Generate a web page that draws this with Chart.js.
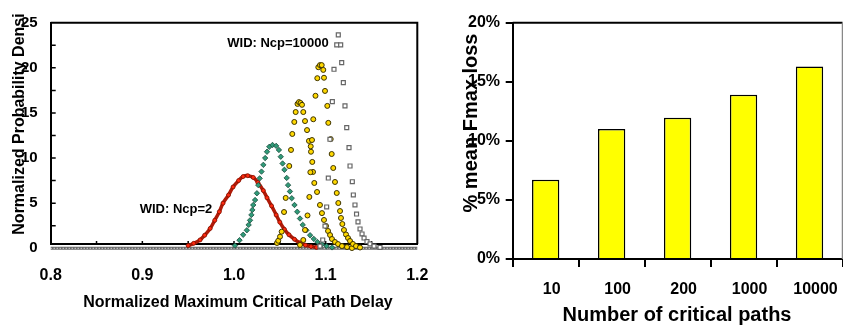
<!DOCTYPE html>
<html>
<head>
<meta charset="utf-8">
<script src="https://cdn.jsdelivr.net/npm/chart.js@4.4.1/dist/chart.umd.min.js"></script>
<style>
  html, body { margin: 0; padding: 0; background: #fff; }
  #wrap { position: relative; width: 843px; height: 329px; overflow: hidden; }
  #cLeft { position: absolute; left: 0; top: 0; }
  #cRight { position: absolute; left: 430px; top: 0; }
</style>
</head>
<body>
<div id="wrap">
  <canvas id="cLeft" width="430" height="329"></canvas>
  <canvas id="cRight" width="413" height="329"></canvas>
</div>
<script>
// --- left panel: normalized PDFs of max critical path delay ---
const ncp2X = [0.950, 0.956, 0.963, 0.968, 0.974, 0.979, 0.984, 0.988, 0.994, 0.999, 1.005, 1.010, 1.015, 1.021,
  1.026, 1.032, 1.036, 1.041, 1.046, 1.050, 1.055, 1.060, 1.066, 1.072, 1.078, 1.084, 1.090];
const ncp2Y = [0.3, 0.55, 0.93, 1.45, 2.2, 3.1, 4.05, 5.0, 5.9, 6.8, 7.5, 7.95, 8.05, 7.85,
  7.3, 6.4, 5.6, 4.7, 3.7, 2.9, 2.1, 1.5, 1.0, 0.6, 0.35, 0.2, 0.1];

const ncpBX = [1.001, 1.006, 1.010, 1.014, 1.016, 1.0175, 1.019, 1.020, 1.021, 1.023, 1.025, 1.0265, 1.028, 1.030,
  1.032, 1.034, 1.036, 1.0385, 1.042, 1.046, 1.049, 1.051, 1.053, 1.055, 1.0575, 1.059, 1.061, 1.063, 1.066,
  1.069, 1.072, 1.075, 1.079, 1.083, 1.087, 1.091, 1.096, 1.101, 1.107];
const ncpBY = [0.3, 0.9, 1.5, 2.0, 2.6, 3.1, 3.7, 4.25, 4.8, 5.35, 6.1, 7.0, 7.75, 8.5,
  9.25, 10.0, 10.7, 11.25, 11.45, 11.35, 10.9, 10.15, 9.4, 8.7, 7.8, 7.0, 6.3, 5.55, 4.8,
  4.05, 3.3, 2.6, 2.0, 1.45, 1.05, 0.7, 0.45, 0.25, 0.1];

const ncpCX = [1.0469, 1.0483, 1.0502, 1.0520, 1.0546, 1.0564, 1.0603, 1.0622, 1.0636, 1.0658, 1.0673, 1.0693,
  1.0709, 1.0726, 1.0742, 1.0756, 1.0775, 1.0797, 1.0818, 1.0837, 1.0840, 1.0854, 1.0862, 1.0876, 1.0906,
  1.0938, 1.0960, 1.0982, 1.1004, 1.1026, 1.1048, 1.1069, 1.1102, 1.1135, 1.1178, 1.1233, 1.1287];
const ncpCY = [0.59, 0.84, 1.29, 1.84, 4.02, 5.58, 9.12, 10.9, 12.67, 14.0, 15.1, 16.0,
  16.2, 16.1, 15.9, 15.1, 14.1, 13.1, 11.9, 11.3, 10.7, 9.57, 8.46, 7.24, 6.24,
  4.8, 3.9, 3.14, 2.47, 1.92, 1.47, 1.03, 0.7, 0.47, 0.25, 0.14, 0.03];

const ncpDX = [1.0720, 1.0756, 1.0775, 1.0802, 1.0822, 1.0833, 1.0851, 1.0865, 1.0889, 1.0909, 1.0920, 1.0938,
  1.0957, 1.0974, 1.0982, 1.0993, 1.1018, 1.1029, 1.1055, 1.1066, 1.1083, 1.1102, 1.1121, 1.1138, 1.1157,
  1.1167, 1.1182, 1.1200, 1.1222, 1.1244, 1.1266, 1.1298, 1.1331, 1.1375];
const ncpDY = [0.37, 0.92, 2.03, 3.64, 5.69, 8.43, 12.0, 14.3, 16.9, 18.85, 20.07, 20.3,
  20.3, 19.77, 18.9, 17.44, 15.78, 13.9, 12.1, 10.45, 8.9, 7.35, 6.13, 5.02, 4.13,
  3.36, 2.69, 2.03, 1.53, 1.14, 0.81, 0.48, 0.25, 0.09];

const ncp10000X = [1.0938, 1.0968, 1.0993, 1.1011, 1.1029, 1.1047, 1.1073, 1.1091, 1.1121, 1.1138, 1.1164, 1.1175,
  1.1193, 1.1211, 1.1230, 1.1255, 1.1266, 1.1291, 1.1302, 1.1320, 1.1337, 1.1353, 1.1375, 1.1397, 1.1419,
  1.1451, 1.1484, 1.1528, 1.1593];
const ncp10000Y = [0.25, 0.92, 2.47, 4.58, 7.79, 12.08, 16.25, 19.84, 22.54, 23.65, 22.54, 20.58,
  18.36, 15.78, 13.37, 11.15, 9.12, 7.38, 5.91, 4.8, 3.8, 2.92, 2.14, 1.59, 1.14,
  0.75, 0.48, 0.25, 0.09];

const baseX = [0.8, 1.2];
const baseY = [0, 0];

const delayTicks = [0.8, 0.9, 1.0, 1.1, 1.2];
const delayMinor = [0.85, 0.9, 0.95, 1.0, 1.05, 1.1, 1.15];
const densTicks = [0, 5, 10, 15, 20, 25];
const densMinor = [2.5, 5, 7.5, 10, 12.5, 15, 17.5, 20, 22.5];

// --- right panel: mean Fmax loss vs number of critical paths ---
const pathCounts = ['10', '100', '200', '1000', '10000'];
const fmaxLoss = [6.7, 11.0, 11.95, 13.9, 16.3];
const lossTicks = [0, 5, 10, 15, 20];

const FONT = "'Liberation Sans', Arial, sans-serif";
const pts = (xs, ys) => xs.map((x, i) => ({ x, y: ys[i] }));

function rotText(ctx, text, x, y, font) {
  ctx.save();
  ctx.translate(x, y);
  ctx.rotate(-Math.PI / 2);
  ctx.font = font;
  ctx.fillStyle = '#000';
  ctx.textAlign = 'center';
  ctx.textBaseline = 'middle';
  ctx.fillText(text, 0, 0);
  ctx.restore();
}

function plainText(ctx, text, x, y, font) {
  ctx.save();
  ctx.font = font;
  ctx.fillStyle = '#000';
  ctx.textAlign = 'center';
  ctx.textBaseline = 'middle';
  ctx.fillText(text, x, y);
  ctx.restore();
}

// frame, inward ticks and labels of the left panel
const leftDecor = {
  id: 'leftDecor',
  beforeDatasetsDraw(chart) {
    const { ctx, chartArea: a, scales: { x, y } } = chart;
    ctx.save();
    ctx.strokeStyle = '#000';
    ctx.lineWidth = 2;
    ctx.beginPath();
    ctx.moveTo(a.left, a.top); ctx.lineTo(a.right, a.top); ctx.lineTo(a.right, a.bottom);
    ctx.stroke();
    ctx.lineWidth = 1.5;
    ctx.beginPath();
    densMinor.forEach(v => {
      const py = y.getPixelForValue(v);
      ctx.moveTo(a.left, py); ctx.lineTo(a.left + 5, py);
    });
    delayMinor.forEach(v => {
      const px = x.getPixelForValue(v);
      ctx.moveTo(px, a.bottom); ctx.lineTo(px, a.bottom - 3);
    });
    ctx.stroke();
    ctx.restore();
  },
  afterDraw(chart) {
    const ctx = chart.ctx;
    rotText(ctx, 'Normalized Probability Densi', 20, 124, `bold 16px ${FONT}`);
    plainText(ctx, 'Normalized Maximum Critical Path Delay', 238, 303, `bold 16px ${FONT}`);
    plainText(ctx, 'WID: Ncp=10000', 278, 43, `bold 13px ${FONT}`);
    plainText(ctx, 'WID: Ncp=2', 176, 209, `bold 13px ${FONT}`);
  }
};

new Chart(document.getElementById('cLeft'), {
  type: 'scatter',
  data: {
    datasets: [
      {
        label: 'Ncp=10000', data: pts(ncp10000X, ncp10000Y), clip: false,
        pointStyle: 'rect', pointRadius: 2.8, pointBackgroundColor: '#ffffff',
        pointBorderColor: '#666666', pointBorderWidth: 1.2
      },
      {
        label: 'D', data: pts(ncpDX, ncpDY), clip: false,
        pointStyle: 'circle', pointRadius: 2.5, pointBackgroundColor: '#ffd800',
        pointBorderColor: '#3d3300', pointBorderWidth: 1
      },
      {
        label: 'C', data: pts(ncpCX, ncpCY), clip: false,
        pointStyle: 'circle', pointRadius: 2.5, pointBackgroundColor: '#ffd800',
        pointBorderColor: '#3d3300', pointBorderWidth: 1
      },
      {
        label: 'B', data: pts(ncpBX, ncpBY), clip: false,
        pointStyle: 'rectRot', pointRadius: 2.7, pointBackgroundColor: '#2f9a78',
        pointBorderColor: '#1b4a3b', pointBorderWidth: 0.8
      },
      {
        label: 'Ncp=2', data: pts(ncp2X, ncp2Y), clip: false, showLine: true, tension: 0.4,
        borderColor: '#b01a08', borderWidth: 3.5,
        pointStyle: 'circle', pointRadius: 2, pointBackgroundColor: '#ff2a10',
        pointBorderColor: '#7a1000', pointBorderWidth: 0.8
      },
      {
        label: 'base-dots', data: pts(baseX, baseY), clip: false, showLine: true,
        borderColor: '#ffffff', borderWidth: 1, borderDash: [1, 2], pointRadius: 0
      },
      {
        label: 'base', data: pts(baseX, baseY), clip: false, showLine: true,
        borderColor: '#6a6a6a', borderWidth: 3, pointRadius: 0
      }
    ]
  },
  options: {
    responsive: false,
    animation: false,
    layout: { padding: { top: 22.7, right: 12.7, left: 0, bottom: 0 } },
    plugins: { legend: { display: false }, tooltip: { enabled: false } },
    scales: {
      x: {
        type: 'linear', min: 0.8, max: 1.2,
        afterBuildTicks: s => { s.ticks = delayTicks.map(v => ({ value: v })); },
        afterFit: s => { s.height = 85; s.paddingLeft = 0; s.paddingRight = 0; },
        grid: { display: false, drawTicks: true, tickLength: 22 },
        border: { display: true, color: '#000', width: 2 },
        ticks: {
          padding: 0, color: '#000', font: { family: FONT, size: 16, weight: 'bold' },
          callback: v => v.toFixed(1)
        }
      },
      y: {
        min: 0.477, max: 25,
        afterBuildTicks: s => { s.ticks = densTicks.map(v => ({ value: v })); },
        afterFit: s => { s.width = 50.7; s.paddingTop = 0; s.paddingBottom = 0; },
        grid: { display: false, drawTicks: false },
        border: { display: true, color: '#000', width: 2 },
        ticks: { padding: 13, color: '#000', font: { family: FONT, size: 15, weight: 'bold' } }
      }
    }
  },
  plugins: [leftDecor]
});

// frame and labels of the right panel
const rightDecor = {
  id: 'rightDecor',
  beforeDatasetsDraw(chart) {
    const { ctx, chartArea: a } = chart;
    ctx.save();
    ctx.strokeStyle = '#000';
    ctx.lineWidth = 2;
    ctx.beginPath();
    ctx.moveTo(a.left, a.top); ctx.lineTo(a.right, a.top);
    ctx.stroke();
    ctx.strokeStyle = '#888';
    ctx.lineWidth = 1.5;
    ctx.beginPath();
    ctx.moveTo(a.right, a.top); ctx.lineTo(a.right, a.bottom);
    ctx.stroke();
    ctx.restore();
  },
  afterDraw(chart) {
    const ctx = chart.ctx;
    rotText(ctx, '% mean Fmax loss', 41, 123, `bold 20px ${FONT}`);
    plainText(ctx, 'Number of critical paths', 247, 315, `bold 20px ${FONT}`);
  }
};

new Chart(document.getElementById('cRight'), {
  type: 'bar',
  data: {
    labels: pathCounts,
    datasets: [{
      data: fmaxLoss,
      backgroundColor: '#ffff00',
      borderColor: '#000',
      borderWidth: 1.5,
      barPercentage: 0.414,
      categoryPercentage: 1
    }]
  },
  options: {
    responsive: false,
    animation: false,
    layout: { padding: { top: 22.7, right: 0.5, left: 0, bottom: 0 } },
    plugins: { legend: { display: false }, tooltip: { enabled: false } },
    scales: {
      x: {
        afterFit: s => { s.height = 70; s.paddingLeft = 0; s.paddingRight = 0; },
        grid: { display: true, drawOnChartArea: false, drawTicks: true, tickLength: 8, color: '#000', lineWidth: 2, offset: true },
        border: { display: true, color: '#000', width: 2 },
        ticks: { padding: 12.7, labelOffset: 6, color: '#000', font: { family: FONT, size: 16, weight: 'bold' } }
      },
      y: {
        min: 0, max: 20,
        afterBuildTicks: s => { s.ticks = lossTicks.map(v => ({ value: v })); },
        afterFit: s => { s.width = 82.7; s.paddingTop = 0; s.paddingBottom = 0; },
        grid: { display: true, drawOnChartArea: false, drawTicks: true, tickLength: 7, color: '#000', lineWidth: 2 },
        border: { display: true, color: '#000', width: 2 },
        ticks: {
          padding: 5.7, color: '#000', font: { family: FONT, size: 16, weight: 'bold' },
          callback: v => v + '%'
        }
      }
    }
  },
  plugins: [rightDecor]
});
</script>
</body>
</html>
